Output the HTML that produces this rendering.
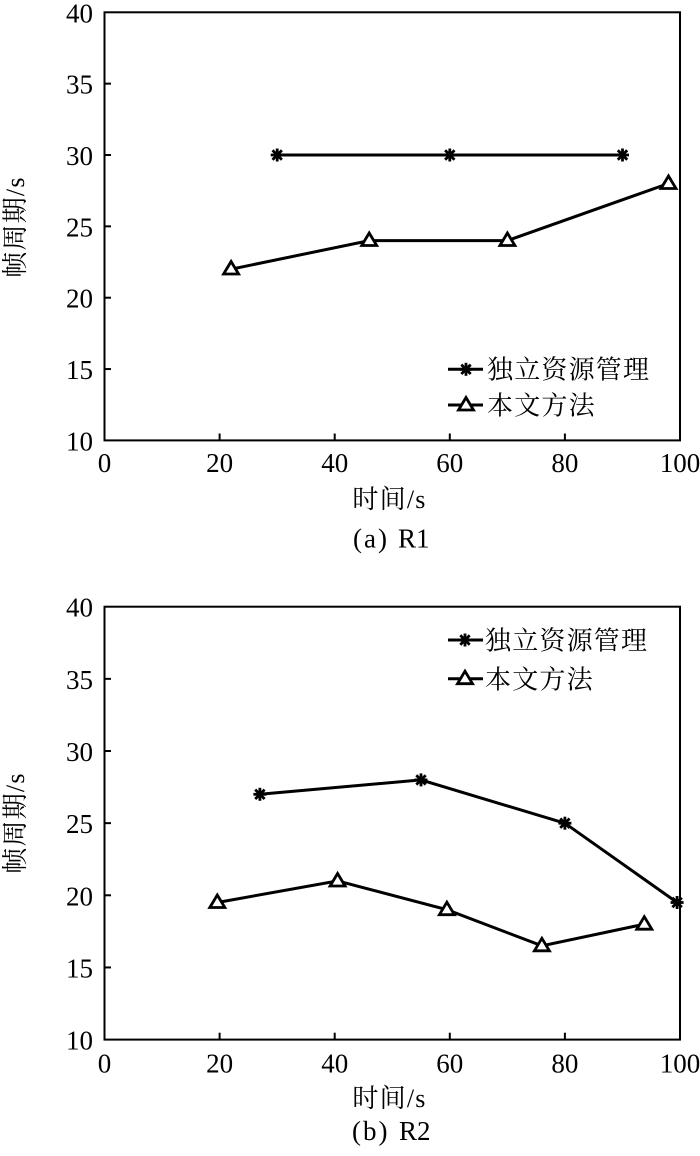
<!DOCTYPE html>
<html><head><meta charset="utf-8"><style>
html,body{margin:0;padding:0;background:#fff;}
svg{display:block;}
.n{font-family:"Liberation Serif","Noto Serif CJK SC",serif;font-size:27px;fill:#000;}
.c{font-family:"Liberation Serif","Noto Serif CJK SC",serif;font-size:26px;fill:#000;letter-spacing:1.2px;}
</style></head><body>
<svg width="700" height="1156" viewBox="0 0 700 1156" xmlns="http://www.w3.org/2000/svg">
<defs>
<g id="st"><g stroke="#000" stroke-width="2.8" stroke-linecap="butt">
<line x1="0" y1="-6.5" x2="0" y2="6.5"/><line x1="-6.5" y1="0" x2="6.5" y2="0"/>
<line x1="-4.7" y1="-4.7" x2="4.7" y2="4.7"/><line x1="-4.7" y1="4.7" x2="4.7" y2="-4.7"/></g></g>
<g id="tr"><path d="M-7.5,6 L7.5,6 L0,-6.5 Z" fill="#fff" stroke="#000" stroke-width="2.8" stroke-linejoin="miter"/></g>
</defs>

<!-- Chart (a) -->
<rect x="104.5" y="12.3" width="575.5" height="428.1" fill="none" stroke="#000" stroke-width="2"/>
<g stroke="#000" stroke-width="2">
<line x1="104.5" y1="83.65" x2="111" y2="83.65"/>
<line x1="104.5" y1="155" x2="111" y2="155"/>
<line x1="104.5" y1="226.35" x2="111" y2="226.35"/>
<line x1="104.5" y1="297.7" x2="111" y2="297.7"/>
<line x1="104.5" y1="369.05" x2="111" y2="369.05"/>
<line x1="219.6" y1="440.4" x2="219.6" y2="433.5"/>
<line x1="334.7" y1="440.4" x2="334.7" y2="433.5"/>
<line x1="449.8" y1="440.4" x2="449.8" y2="433.5"/>
<line x1="564.9" y1="440.4" x2="564.9" y2="433.5"/>
</g>
<g class="n" text-anchor="end">
<text x="93" y="22.3">40</text>
<text x="93" y="93.6">35</text>
<text x="93" y="165">30</text>
<text x="93" y="236.3">25</text>
<text x="93" y="307.7">20</text>
<text x="93" y="379">15</text>
<text x="93" y="450.4">10</text>
</g>
<g class="n" text-anchor="middle">
<text x="104.5" y="472">0</text>
<text x="219.6" y="472">20</text>
<text x="334.7" y="472">40</text>
<text x="449.8" y="472">60</text>
<text x="564.9" y="472">80</text>
<text x="680" y="472">100</text>
</g>
<text class="c" x="389.5" y="508" text-anchor="middle">时间/s</text>
<text class="c" transform="translate(24,227) rotate(-90)" text-anchor="middle">帧周期/s</text>
<text class="n" x="353" y="547.5" letter-spacing="2">(a)</text>
<text class="n" x="398" y="547.5">R1</text>

<polyline points="277.2,155 449.8,155 622.5,155" fill="none" stroke="#000" stroke-width="3"/>
<polyline points="231.1,269.2 369.2,240.6 507.4,240.6 668.5,183.5" fill="none" stroke="#000" stroke-width="3"/>
<use href="#st" x="277.2" y="155"/><use href="#st" x="449.8" y="155"/><use href="#st" x="622.5" y="155"/>
<use href="#tr" x="231.1" y="268"/><use href="#tr" x="369.2" y="239.5"/><use href="#tr" x="507.4" y="239.5"/><use href="#tr" x="668.5" y="182.5"/>

<line x1="448" y1="369.3" x2="483" y2="369.3" stroke="#000" stroke-width="3"/>
<use href="#st" x="466" y="369.3"/>
<line x1="448" y1="405" x2="483" y2="405" stroke="#000" stroke-width="3"/>
<use href="#tr" x="466" y="404"/>
<text class="c" x="487" y="378.5">独立资源管理</text>
<text class="c" x="487" y="414.5">本文方法</text>

<!-- Chart (b) -->
<rect x="104.5" y="606.7" width="575.5" height="432.9" fill="none" stroke="#000" stroke-width="2"/>
<g stroke="#000" stroke-width="2">
<line x1="104.5" y1="678.85" x2="111" y2="678.85"/>
<line x1="104.5" y1="751" x2="111" y2="751"/>
<line x1="104.5" y1="823.15" x2="111" y2="823.15"/>
<line x1="104.5" y1="895.3" x2="111" y2="895.3"/>
<line x1="104.5" y1="967.45" x2="111" y2="967.45"/>
<line x1="219.6" y1="1039.6" x2="219.6" y2="1032.7"/>
<line x1="334.7" y1="1039.6" x2="334.7" y2="1032.7"/>
<line x1="449.8" y1="1039.6" x2="449.8" y2="1032.7"/>
<line x1="564.9" y1="1039.6" x2="564.9" y2="1032.7"/>
</g>
<g class="n" text-anchor="end">
<text x="93" y="616.7">40</text>
<text x="93" y="688.8">35</text>
<text x="93" y="761">30</text>
<text x="93" y="833.1">25</text>
<text x="93" y="905.3">20</text>
<text x="93" y="977.4">15</text>
<text x="93" y="1049.6">10</text>
</g>
<g class="n" text-anchor="middle">
<text x="104.5" y="1072.5">0</text>
<text x="219.6" y="1072.5">20</text>
<text x="334.7" y="1072.5">40</text>
<text x="449.8" y="1072.5">60</text>
<text x="564.9" y="1072.5">80</text>
<text x="680" y="1072.5">100</text>
</g>
<text class="c" x="389.5" y="1107" text-anchor="middle">时间/s</text>
<text class="c" transform="translate(24,823) rotate(-90)" text-anchor="middle">帧周期/s</text>
<text class="n" x="352" y="1140" letter-spacing="2">(b)</text>
<text class="n" x="399" y="1140">R2</text>

<polyline points="259.9,794.3 421,779.9 564.9,823.2 677.1,902.5" fill="none" stroke="#000" stroke-width="3"/>
<polyline points="217.3,902.5 337.6,880.9 446.9,909.7 541.9,945.8 644.3,924.2" fill="none" stroke="#000" stroke-width="3"/>
<use href="#st" x="259.9" y="794.3"/><use href="#st" x="421" y="779.9"/><use href="#st" x="564.9" y="823.2"/><use href="#st" x="677.1" y="902.5"/>
<use href="#tr" x="217.3" y="901.5"/><use href="#tr" x="337.6" y="880"/><use href="#tr" x="446.9" y="908.7"/><use href="#tr" x="541.9" y="944.8"/><use href="#tr" x="644.3" y="923.2"/>

<line x1="448" y1="640" x2="483" y2="640" stroke="#000" stroke-width="3"/>
<use href="#st" x="465" y="640"/>
<line x1="448" y1="678.7" x2="483" y2="678.7" stroke="#000" stroke-width="3"/>
<use href="#tr" x="465" y="677.7"/>
<text class="c" x="485" y="649.5">独立资源管理</text>
<text class="c" x="485" y="688.5">本文方法</text>
</svg>
</body></html>
